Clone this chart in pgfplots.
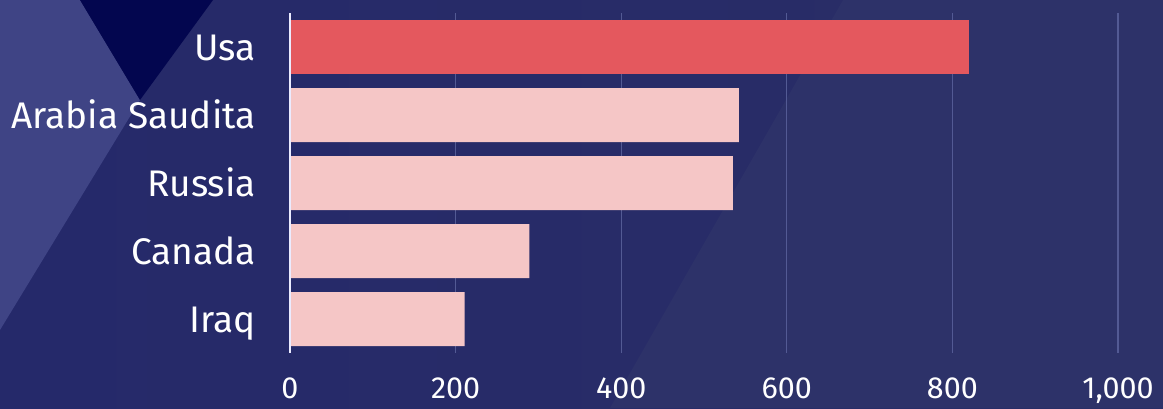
\documentclass[border=0pt]{standalone}
\usepackage{pgfplots}
\pgfplotsset{compat=1.18}
\usepackage{fontspec}
\setmainfont{Fira Sans}
\definecolor{bgA}{HTML}{25296A}
\definecolor{bgB}{HTML}{2A2E66}
\definecolor{bgR}{HTML}{2D3269}
\definecolor{lightL}{HTML}{3F4485}
\definecolor{darkT}{HTML}{03064F}
\definecolor{barRed}{HTML}{E4585E}
\definecolor{barPink}{HTML}{F5C6C6}
\definecolor{gridC}{HTML}{535A94}
\begin{document}
\begin{tikzpicture}[x=1pt,y=1pt]
\useasboundingbox (0,0) rectangle (1163,408);
\clip (0,0) rectangle (1163,408);
\shade[left color=bgA, right color=bgB] (0,0) rectangle (1163,408);
\fill[bgR] (843,408) -- (1163,408) -- (1163,0) -- (610,0) -- cycle;
\fill[lightL] (0,408) -- (80,408) -- (140,308) -- (0,78) -- cycle;
\fill[darkT] (80,408) -- (213,408) -- (140,308) -- cycle;
\begin{axis}[
  at={(290pt,55pt)}, anchor=south west,
  scale only axis, width=828pt, height=340pt,
  xbar, bar width=54pt, bar shift=0pt,
  xmin=0, xmax=1000,
  ymin=-0.5, ymax=4.5, y dir=reverse,
  xtick={0,200,400,600,800,1000},
  ytick={0,1,2,3,4},
  yticklabels={Usa, Arabia Saudita, Russia, Canada, Iraq},
  axis line style={draw=none},
  major tick length=0pt,
  xmajorgrids, grid style={gridC, line width=1.2pt},
  /pgf/number format/assume math mode=true,
  xticklabel style={font=\fontsize{30.5}{36}\selectfont, text=white, anchor=base, inner sep=0pt, yshift=-45pt},
  yticklabel style={font=\fontsize{37}{44}\selectfont, text=white, anchor=east, inner sep=0pt, text height=26pt, text depth=0pt, xshift=-34pt},
  clip=false,
]
\addplot[fill=barRed, draw=none] coordinates {(820,0)};
\addplot[fill=barPink, draw=none] coordinates {(542,1) (535,2) (289,3) (211,4)};
\draw[white!92!blue, line width=1.5pt] (axis cs:0,-0.5) -- (axis cs:0,4.5);
\end{axis}
\end{tikzpicture}
\end{document}
